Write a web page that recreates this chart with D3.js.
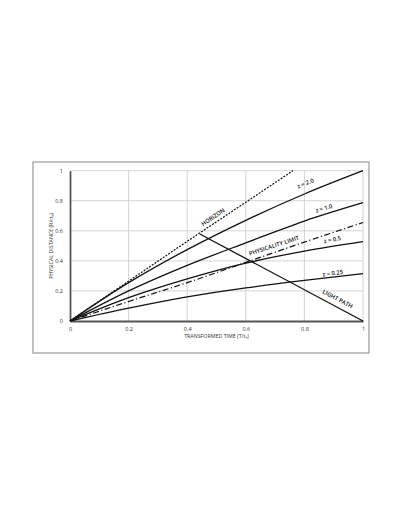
<!DOCTYPE html>
<html lang="en">
<head>
<meta charset="utf-8">
<title>Physical distance vs transformed time</title>
<style>
  body { margin: 0; background: #fff; }
  .tick text { font-family: "Open Sans", sans-serif; font-size: 5.5px; fill: #333; }
  .lbl { font-family: "Open Sans", sans-serif; font-size: 5.8px; font-weight: 600; fill: #111; }
  .axt { font-family: "Open Sans", sans-serif; font-size: 5.3px; fill: #333; }
</style>
<script src="https://cdn.jsdelivr.net/npm/d3@7"></script>
</head>
<body>
<svg width="402" height="521"></svg>
<script>
// values
var xs    = [0, 0.2, 0.4, 0.6, 0.8, 1];
var z2    = [0, 0.255, 0.475, 0.67, 0.845, 1.0];
var z1    = [0, 0.2, 0.37, 0.52, 0.665, 0.787];
var z05   = [0, 0.155, 0.28, 0.385, 0.465, 0.528];
var z025  = [0, 0.085, 0.16, 0.22, 0.27, 0.315];
var phys  = [0, 0.13, 0.255, 0.39, 0.525, 0.655];
var horX  = [0, 0.2, 0.4, 0.6, 0.761];
var horY  = [0, 0.265, 0.53, 0.79, 1.0];
var lpX   = [0.443, 1];
var lpY   = [0.579, 0];
var ticks = [0, 0.2, 0.4, 0.6, 0.8, 1];

var svg = d3.select("svg");

// outer frame
svg.append("rect")
   .attr("x", 33).attr("y", 162)
   .attr("width", 336).attr("height", 191)
   .attr("fill", "none").attr("stroke", "#9a9a9a").attr("stroke-width", 1.2);

var x = d3.scaleLinear().domain([0, 1]).range([70, 363]);
var y = d3.scaleLinear().domain([0, 1]).range([321, 170.7]);

var g = svg.append("g");

// grid
g.selectAll(".gx").data(ticks.slice(1)).enter().append("line")
   .attr("x1", function(d) { return x(d); }).attr("x2", function(d) { return x(d); })
   .attr("y1", y(0)).attr("y2", y(1))
   .attr("stroke", "#c8c8c8").attr("stroke-width", 0.8);
g.selectAll(".gy").data(ticks.slice(1)).enter().append("line")
   .attr("x1", x(0)).attr("x2", x(1))
   .attr("y1", function(d) { return y(d); }).attr("y2", function(d) { return y(d); })
   .attr("stroke", "#c8c8c8").attr("stroke-width", 0.8);

// axes
var fmt = function(d) { return d === 0 ? "0" : d === 1 ? "1" : d3.format(".1f")(d); };
var ax = g.append("g").attr("transform", "translate(0," + y(0) + ")")
   .call(d3.axisBottom(x).tickValues(ticks).tickSize(0).tickPadding(6).tickFormat(fmt));
var ay = g.append("g").attr("transform", "translate(" + x(0) + ",0)")
   .call(d3.axisLeft(y).tickValues(ticks).tickSize(0).tickPadding(7).tickFormat(fmt));
ax.select(".domain").attr("stroke", "#555").attr("stroke-width", 1.8);
ay.select(".domain").attr("stroke", "#555").attr("stroke-width", 1.8);

svg.append("text").attr("class", "axt")
   .attr("x", x(0.5)).attr("y", 338).attr("text-anchor", "middle")
   .text("TRANSFORMED TIME (T/t\u2080)");
svg.append("text").attr("class", "axt")
   .attr("transform", "translate(53," + y(0.5) + ") rotate(-90)")
   .attr("text-anchor", "middle")
   .text("PHYSICAL DISTANCE (R/ct\u2080)");

// curves
function pts(xv, yv) { return xv.map(function(d, i) { return [d, yv[i]]; }); }
var line = d3.line()
   .x(function(d) { return x(d[0]); })
   .y(function(d) { return y(d[1]); })
   .curve(d3.curveMonotoneX);

var series = [
  { p: pts(horX, horY), dash: "2,1.3", w: 1.2 },
  { p: pts(xs, z2), dash: null, w: 1.3 },
  { p: pts(xs, z1), dash: null, w: 1.3 },
  { p: pts(xs, phys), dash: "6,2.5,1.2,2.5", w: 1.2 },
  { p: pts(xs, z05), dash: null, w: 1.3 },
  { p: pts(xs, z025), dash: null, w: 1.3 },
  { p: pts(lpX, lpY), dash: null, w: 1.3 }
];
g.selectAll(".curve").data(series).enter().append("path")
   .attr("d", function(d) { return line(d.p); })
   .attr("fill", "none").attr("stroke", "#111")
   .attr("stroke-width", function(d) { return d.w; })
   .attr("stroke-dasharray", function(d) { return d.dash; });

// labels along the curves
var labels = [
  { t: "HORIZON", x: 0.495, y: 0.672, a: -34 },
  { t: "z = 2.0", x: 0.808, y: 0.894, a: -22 },
  { t: "z = 1.0", x: 0.87, y: 0.727, a: -17 },
  { t: "PHYSICALITY  LIMIT", x: 0.70, y: 0.479, a: -18 },
  { t: "z = 0.5", x: 0.898, y: 0.519, a: -12 },
  { t: "z = 0.25", x: 0.898, y: 0.295, a: -7 },
  { t: "LIGHT  PATH", x: 0.908, y: 0.126, a: 28 }
];
g.selectAll(".lbl").data(labels).enter().append("text")
   .attr("class", "lbl")
   .attr("text-anchor", "middle")
   .attr("dy", -1.5)
   .attr("transform", function(d) { return "translate(" + x(d.x) + "," + y(d.y) + ") rotate(" + d.a + ")"; })
   .text(function(d) { return d.t; });
</script>
</body>
</html>
